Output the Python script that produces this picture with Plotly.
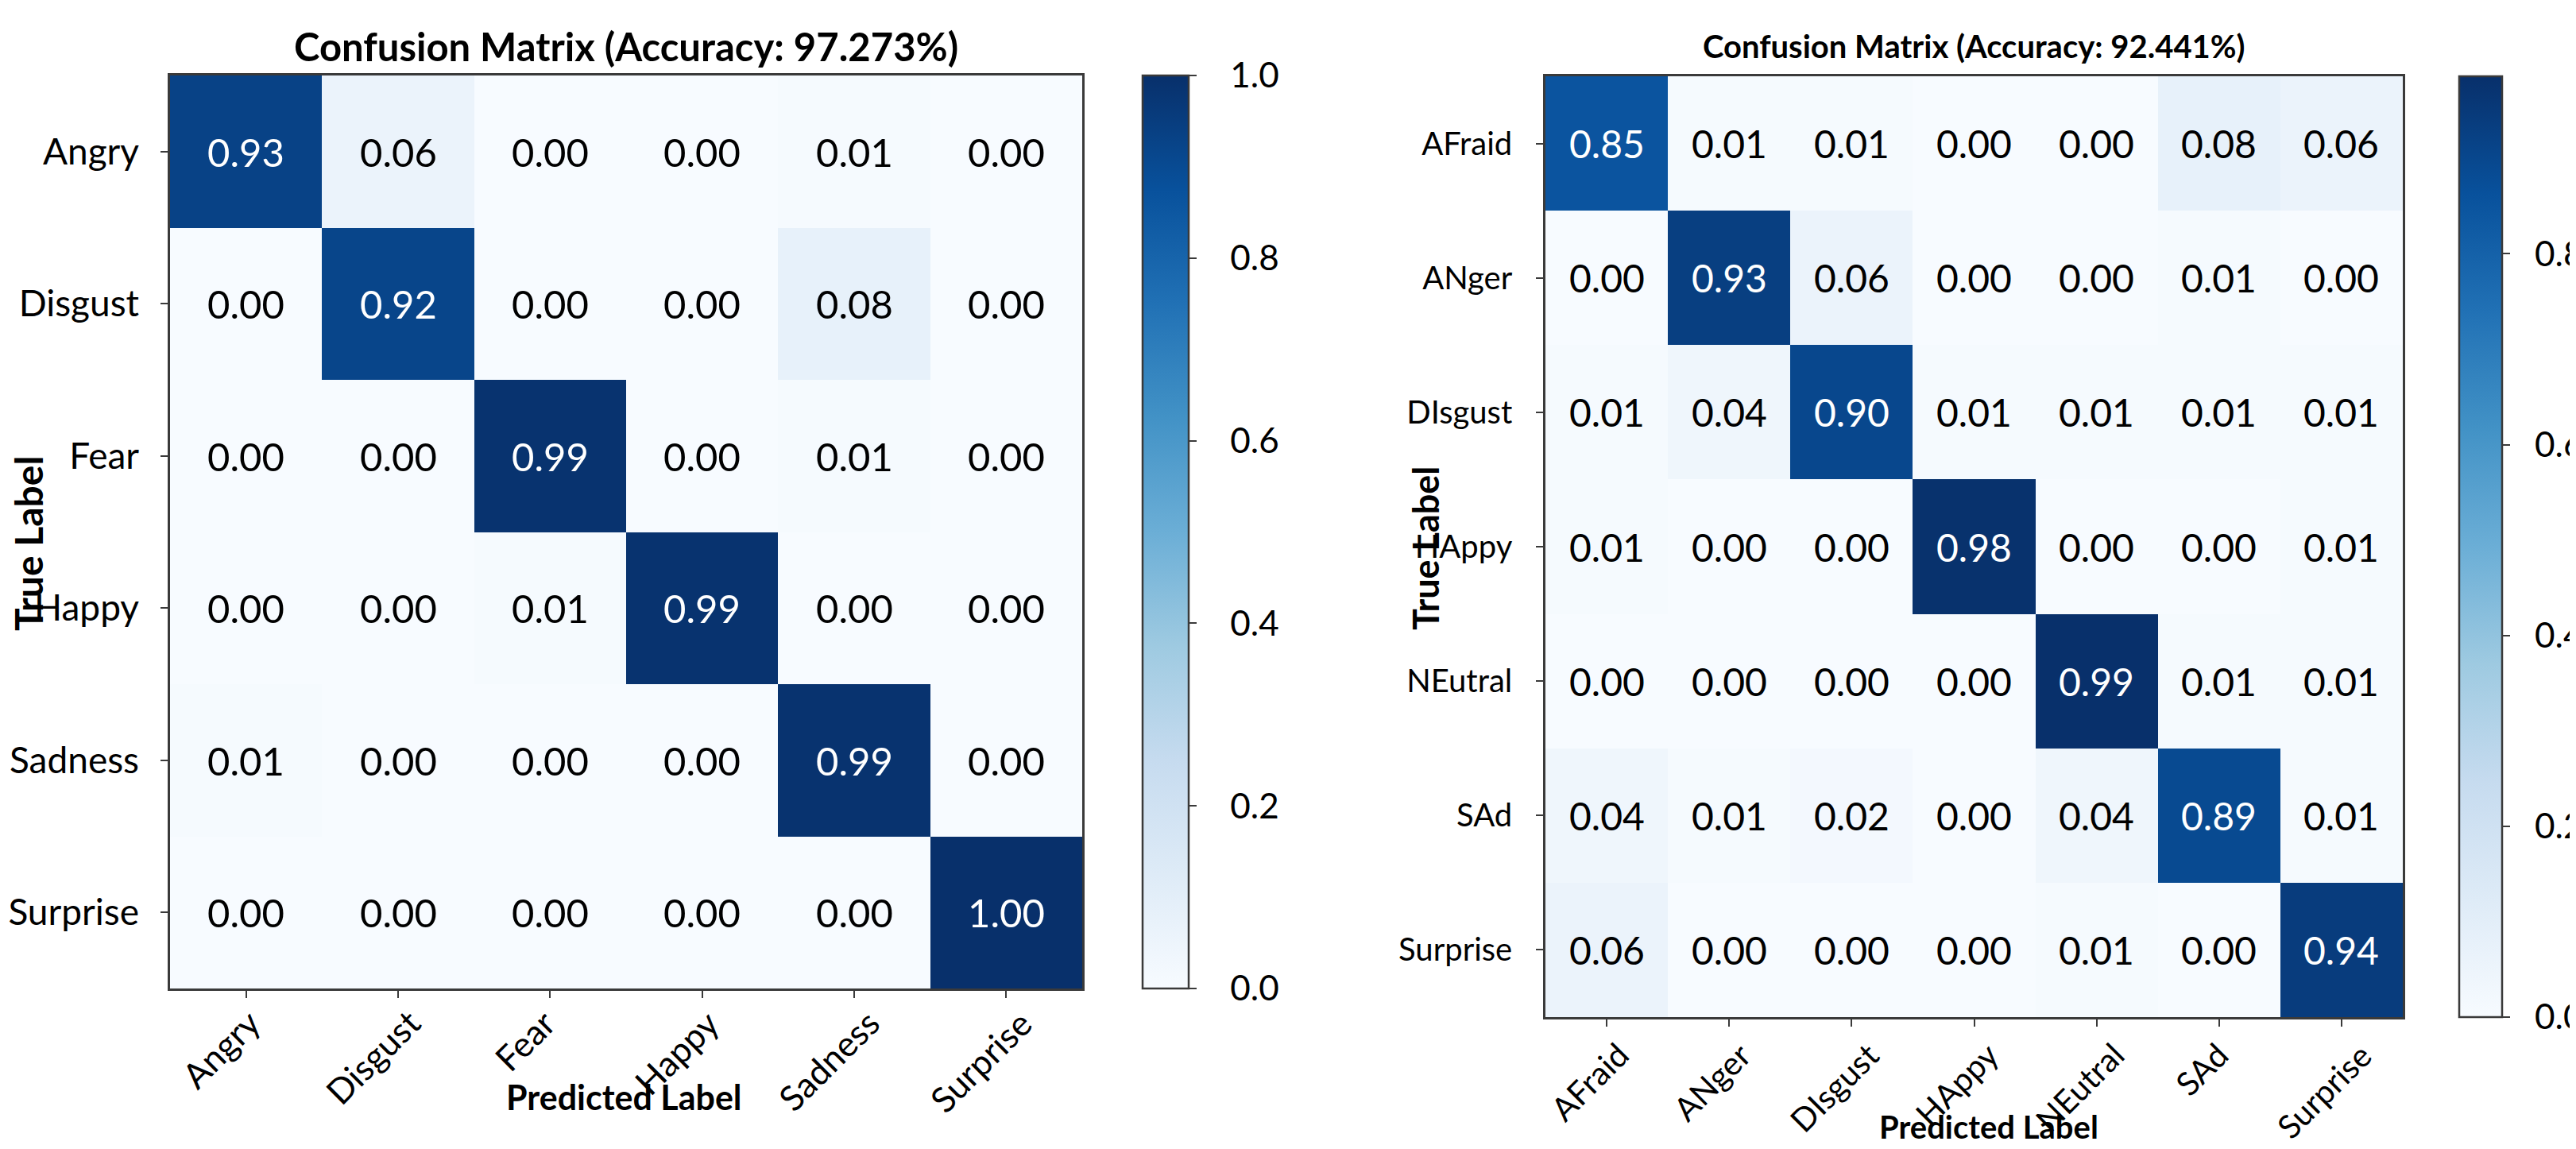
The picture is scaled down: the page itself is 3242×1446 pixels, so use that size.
import plotly.graph_objects as go

W, H = 3242, 1446
OFF = 8  # the page body adds an 8px margin; positions below are page pixels

labels_a = ["Angry", "Disgust", "Fear", "Happy", "Sadness", "Surprise"]
values_a = [
    [0.93, 0.06, 0.00, 0.00, 0.01, 0.00],
    [0.00, 0.92, 0.00, 0.00, 0.08, 0.00],
    [0.00, 0.00, 0.99, 0.00, 0.01, 0.00],
    [0.00, 0.00, 0.01, 0.99, 0.00, 0.00],
    [0.01, 0.00, 0.00, 0.00, 0.99, 0.00],
    [0.00, 0.00, 0.00, 0.00, 0.00, 1.00],
]
title_a = "Confusion Matrix (Accuracy: 97.273%)"
zmax_a = 1.0

labels_b = ["AFraid", "ANger", "DIsgust", "HAppy", "NEutral", "SAd", "Surprise"]
values_b = [
    [0.85, 0.01, 0.01, 0.00, 0.00, 0.08, 0.06],
    [0.00, 0.93, 0.06, 0.00, 0.00, 0.01, 0.00],
    [0.01, 0.04, 0.90, 0.01, 0.01, 0.01, 0.01],
    [0.01, 0.00, 0.00, 0.98, 0.00, 0.00, 0.01],
    [0.00, 0.00, 0.00, 0.00, 0.99, 0.01, 0.01],
    [0.04, 0.01, 0.02, 0.00, 0.04, 0.89, 0.01],
    [0.06, 0.00, 0.00, 0.00, 0.01, 0.00, 0.94],
]
title_b = "Confusion Matrix (Accuracy: 92.441%)"
zmax_b = 0.986

cbar_ticks_a = [0.0, 0.2, 0.4, 0.6, 0.8, 1.0]
cbar_ticks_b = [0.0, 0.2, 0.4, 0.6, 0.8]

BLUES = ['rgb(247,251,255)', 'rgb(222,235,247)', 'rgb(198,219,239)', 'rgb(158,202,225)',
         'rgb(107,174,214)', 'rgb(66,146,198)', 'rgb(33,113,181)', 'rgb(8,81,156)', 'rgb(8,48,107)']
colorscale = [[i / (len(BLUES) - 1), c] for i, c in enumerate(BLUES)]

FONT = "Lato"
LINE = "#3a3a3a"


def px_x(p):
    return (p - OFF) / W


def px_y(p):
    return 1 - (p - OFF) / H


# panel geometry (page pixels) and text sizes
A = dict(x0=214, x1=1362, y0=95, y1=1244, cb0=1438, cb1=1496, xlab_top=1258, title_y=58,
         ylab=(35, 684), xlab=(785, 1380), xshift=-32, cb_pad=3,
         ytick_fs=46, xtick_fs=44, cell_fs=49, title_fs=49, lab_fs=43, ylab_fs=48, standoff=18)
B = dict(x0=1945, x1=3024, y0=96, y1=1280, cb0=3095, cb1=3149, xlab_top=1300, title_y=58,
         ylab=(1794, 690), xlab=(2503, 1418), xshift=-22, cb_pad=2,
         ytick_fs=40, xtick_fs=41, cell_fs=48, title_fs=40, lab_fs=40, ylab_fs=45, standoff=22)

fig = go.Figure()


def add_panel(idx, labels, values, zmax, ticks, title, g):
    n = len(labels)
    xa = "x" if idx == 1 else "x2"
    ya = "y" if idx == 1 else "y2"
    fig.add_trace(go.Heatmap(
        z=values, x=list(range(n)), y=list(range(n)),
        xaxis=xa, yaxis=ya,
        colorscale=colorscale, zmin=0, zmax=zmax,
        hoverinfo="skip",
        colorbar=dict(
            x=px_x(g["cb0"]), xanchor="left", xref="paper", xpad=0,
            y=px_y(g["y0"]), yanchor="top", yref="paper", ypad=0,
            len=(g["y1"] - g["y0"]) / H, lenmode="fraction",
            thickness=g["cb1"] - g["cb0"], thicknessmode="pixels",
            outlinewidth=2.5, outlinecolor=LINE,
            ticks="outside", ticklen=9, tickwidth=2, tickcolor=LINE,
            ticklabeloverflow="allow",
            tickvals=ticks, ticktext=["\u00a0" * g["cb_pad"] + f"{t:.1f}" for t in ticks],
            tickfont=dict(family=FONT, size=44, color="black"),
        ),
    ))
    thresh = zmax / 2
    for i in range(n):
        for j in range(n):
            v = values[i][j]
            fig.add_annotation(
                x=j, y=i, xref=xa, yref=ya, text=f"{v:.2f}", showarrow=False,
                xanchor="center", yanchor="middle",
                font=dict(family=FONT, size=g["cell_fs"], color="white" if v > thresh else "black"),
            )
    # rotated x tick labels, bounding box centred under each tick
    for j, lab in enumerate(labels):
        fig.add_annotation(
            x=j, y=px_y(g["xlab_top"]), xref=xa, yref="paper", text=lab, showarrow=False,
            textangle=-45, xanchor="center", yanchor="top", xshift=g["xshift"],
            font=dict(family=FONT, size=g["xtick_fs"], color="black"),
        )
    axis_common = dict(
        showgrid=False, zeroline=False, showline=True, mirror=True, automargin=False,
        linecolor=LINE, linewidth=2.5, ticks="outside", ticklen=9, tickwidth=2,
        tickcolor=LINE, tickfont=dict(family=FONT, size=g["ytick_fs"], color="black"),
        tickvals=list(range(n)), ticktext=labels, range=[-0.5, n - 0.5],
    )
    xkey = "xaxis" if idx == 1 else "xaxis2"
    ykey = "yaxis" if idx == 1 else "yaxis2"
    fig.update_layout(**{
        xkey: dict(axis_common, domain=[px_x(g["x0"]), px_x(g["x1"])], anchor=ya,
                   showticklabels=False),
        ykey: dict(axis_common, domain=[px_y(g["y1"]), px_y(g["y0"])], anchor=xa,
                   range=[n - 0.5, -0.5], ticklabelstandoff=g["standoff"]),
    })
    cx = (g["x0"] + g["x1"]) / 2
    fig.add_annotation(x=px_x(cx), y=px_y(g["title_y"]), xref="paper", yref="paper",
                       text=f"<b>{title}</b>", showarrow=False,
                       font=dict(family=FONT, size=g["title_fs"], color="black"),
                       xanchor="center", yanchor="middle")
    fig.add_annotation(x=px_x(g["xlab"][0]), y=px_y(g["xlab"][1]), xref="paper", yref="paper",
                       text="<b>Predicted Label</b>", showarrow=False,
                       xanchor="center", yanchor="middle",
                       font=dict(family=FONT, size=g["lab_fs"], color="black"))
    fig.add_annotation(x=px_x(g["ylab"][0]), y=px_y(g["ylab"][1]), xref="paper", yref="paper",
                       text="<b>True Label</b>", showarrow=False, textangle=-90,
                       xanchor="center", yanchor="middle",
                       font=dict(family=FONT, size=g["ylab_fs"], color="black"))


add_panel(1, labels_a, values_a, zmax_a, cbar_ticks_a, title_a, A)
add_panel(2, labels_b, values_b, zmax_b, cbar_ticks_b, title_b, B)

fig.update_layout(
    width=W, height=H, margin=dict(l=0, r=0, t=0, b=0, autoexpand=False),
    paper_bgcolor="white", plot_bgcolor="white", showlegend=False,
)

fig.write_html("out.html")
